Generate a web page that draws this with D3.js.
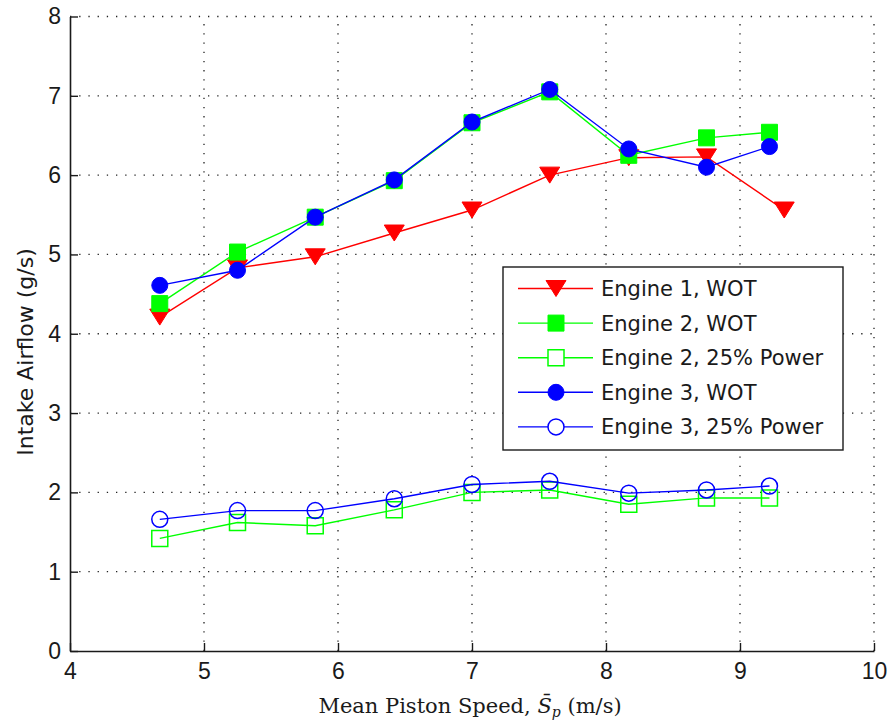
<!DOCTYPE html>
<html>
<head>
<meta charset="utf-8">
<script src="https://cdn.jsdelivr.net/npm/d3@7"></script>
<style>
  html, body { margin: 0; padding: 0; background: #fff; }
  svg { display: block; }
</style>
</head>
<body>
<svg id="chart" width="889" height="725"></svg>
<script>
// Mean piston speed (m/s) at each test point
const speedEngine1 = [4.67, 5.25, 5.83, 6.42, 7.0, 7.58, 8.17, 8.75, 9.33];
const speedEngine23 = [4.67, 5.25, 5.83, 6.42, 7.0, 7.58, 8.17, 8.75, 9.22];

// Intake airflow (g/s)
const engine1Wot = [4.21, 4.83, 4.97, 5.27, 5.56, 6.0, 6.22, 6.23, 5.56];
const engine2Wot = [4.38, 5.03, 5.47, 5.93, 6.66, 7.05, 6.25, 6.47, 6.54];
const engine2Quarter = [1.42, 1.62, 1.58, 1.78, 2.0, 2.03, 1.85, 1.93, 1.93];
const engine3Wot = [4.61, 4.8, 5.47, 5.94, 6.67, 7.08, 6.33, 6.1, 6.36];
const engine3Quarter = [1.66, 1.77, 1.77, 1.92, 2.1, 2.14, 1.99, 2.03, 2.08];

const seriesNames = ["Engine 1, WOT", "Engine 2, WOT", "Engine 2, 25% Power",
                     "Engine 3, WOT", "Engine 3, 25% Power"];

const xTicks = [4, 5, 6, 7, 8, 9, 10];
const yTicks = [0, 1, 2, 3, 4, 5, 6, 7, 8];

const series = [
  { name: seriesNames[0], xs: speedEngine1, ys: engine1Wot, color: "#ff0000", marker: "triDown", filled: true },
  { name: seriesNames[1], xs: speedEngine23, ys: engine2Wot, color: "#00ff00", marker: "square", filled: true },
  { name: seriesNames[2], xs: speedEngine23, ys: engine2Quarter, color: "#00ff00", marker: "square", filled: false },
  { name: seriesNames[3], xs: speedEngine23, ys: engine3Wot, color: "#0000ff", marker: "circle", filled: true },
  { name: seriesNames[4], xs: speedEngine23, ys: engine3Quarter, color: "#0000ff", marker: "circle", filled: false }
];

const svg = d3.select("#chart");
const plot = { left: 70, right: 874, top: 16.5, bottom: 651 };

const x = d3.scaleLinear().domain([4, 10]).range([plot.left, plot.right]);
const y = d3.scaleLinear().domain([0, 8]).range([plot.bottom, plot.top]);

// Dotted grid
const grid = svg.append("g").attr("stroke", "#222").attr("stroke-width", 1.3)
  .attr("stroke-dasharray", "1.3,7.9");
grid.selectAll("line.vx").data(xTicks.slice(1)).join("line")
  .attr("x1", d => x(d)).attr("x2", d => x(d))
  .attr("y1", plot.bottom).attr("y2", plot.top);
grid.selectAll("line.hy").data(yTicks.slice(1)).join("line")
  .attr("y1", d => y(d)).attr("y2", d => y(d))
  .attr("x1", plot.left).attr("x2", plot.right);

// Axes with inward ticks
const tickFont = "'Liberation Sans', Arial, sans-serif";
const xAxis = svg.append("g").attr("transform", `translate(0,${plot.bottom})`)
  .call(d3.axisBottom(x).tickValues(xTicks).tickFormat(d3.format("d"))
    .tickSizeInner(-8).tickSizeOuter(0).tickPadding(12));
const yAxis = svg.append("g").attr("transform", `translate(${plot.left},0)`)
  .call(d3.axisLeft(y).tickValues(yTicks).tickFormat(d3.format("d"))
    .tickSizeInner(-8).tickSizeOuter(0).tickPadding(9));
[xAxis, yAxis].forEach(a => {
  a.select(".domain").attr("stroke", "#1a1a1a").attr("stroke-width", 1.6);
  a.selectAll(".tick line").attr("stroke", "#1a1a1a").attr("stroke-width", 1.4);
  a.selectAll(".tick text").attr("fill", "#1a1a1a")
    .style("font-family", tickFont).style("font-size", "23px");
});

// Marker shapes
function markerPath(type, cx, cy) {
  if (type === "circle") {
    const r = 8;
    return `M${cx + r},${cy}A${r},${r} 0 1,1 ${cx - r},${cy}A${r},${r} 0 1,1 ${cx + r},${cy}Z`;
  }
  if (type === "square") {
    const h = 8;
    return `M${cx - h},${cy - h}H${cx + h}V${cy + h}H${cx - h}Z`;
  }
  // downward triangle
  const w = 10, t = 8;
  return `M${cx - w},${cy - t}H${cx + w}L${cx},${cy + t}Z`;
}

const line = d3.line();
series.forEach(s => {
  const pts = s.xs.map((v, i) => [x(v), y(s.ys[i])]);
  const g = svg.append("g");
  g.append("path").attr("d", line(pts)).attr("fill", "none")
    .attr("stroke", s.color).attr("stroke-width", 1.4);
  g.selectAll("path.m").data(pts).join("path").attr("class", "m")
    .attr("d", p => markerPath(s.marker, p[0], p[1]))
    .attr("fill", s.filled ? s.color : "none")
    .attr("stroke", s.color).attr("stroke-width", s.filled ? 1 : 1.5);
});

// Legend
const labelFont = "'DejaVu Sans', Verdana, sans-serif";
const legend = svg.append("g");
legend.append("rect").attr("x", 503).attr("y", 267).attr("width", 340).attr("height", 183)
  .attr("fill", "#fff").attr("stroke", "#1a1a1a").attr("stroke-width", 1.4);
series.forEach((s, i) => {
  const ly = 288.5 + i * 34.6;
  legend.append("line").attr("x1", 518).attr("x2", 593).attr("y1", ly).attr("y2", ly)
    .attr("stroke", s.color).attr("stroke-width", 1.4);
  legend.append("path").attr("d", markerPath(s.marker, 556, ly))
    .attr("fill", s.filled ? s.color : "#fff")
    .attr("stroke", s.color).attr("stroke-width", s.filled ? 1 : 1.5);
  legend.append("text").attr("x", 601).attr("y", ly).attr("dy", "0.36em")
    .attr("fill", "#1a1a1a").style("font-family", labelFont).style("font-size", "21px")
    .text(s.name);
});

// Axis titles
svg.append("text")
  .attr("transform", "translate(33,352) rotate(-90)")
  .attr("text-anchor", "middle").attr("fill", "#1a1a1a")
  .style("font-family", labelFont).style("font-size", "22px")
  .text("Intake Airflow (g/s)");

const xt = svg.append("text")
  .attr("x", 470).attr("y", 713).attr("text-anchor", "middle").attr("fill", "#1a1a1a")
  .style("font-family", "'DejaVu Serif', 'Liberation Serif', serif").style("font-size", "21px");
xt.append("tspan").text("Mean Piston Speed, ");
xt.append("tspan").style("font-style", "italic").text("S\u0304");
xt.append("tspan").style("font-style", "italic").style("font-size", "14px").attr("dy", 4).text("p");
xt.append("tspan").attr("dy", -4).text(" (m/s)");
</script>
</body>
</html>
